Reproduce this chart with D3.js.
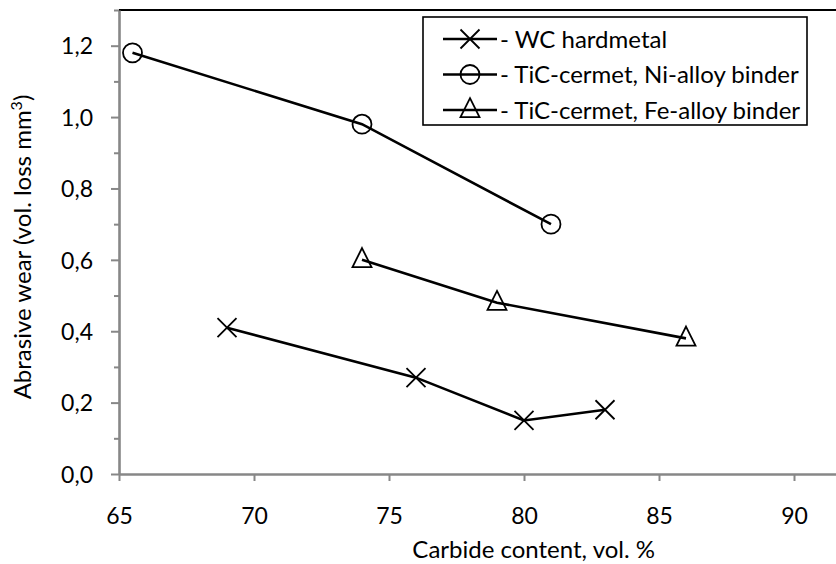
<!DOCTYPE html>
<html>
<head>
<meta charset="utf-8">
<script src="https://cdn.jsdelivr.net/npm/d3@7"></script>
<style>
  html, body { margin: 0; padding: 0; background: #fff; }
  svg { display: block; font-family: Lato, "Open Sans", sans-serif; }
</style>
</head>
<body>
<svg id="chart" width="836" height="564"></svg>
<script>
// Abrasive wear vs carbide content for three material groups
const wcContent   = [69, 76, 80, 83];
const wcWear      = [0.41, 0.27, 0.15, 0.18];
const niContent   = [65.5, 74, 81];
const niWear      = [1.18, 0.98, 0.70];
const feContent   = [74, 79, 86];
const feWear      = [0.60, 0.48, 0.38];

const seriesNames = ["- WC hardmetal", "- TiC-cermet, Ni-alloy binder", "- TiC-cermet, Fe-alloy binder"];
const seriesMarks = ["times", "circle", "triangle"];
const xTicks = [65, 70, 75, 80, 85, 90];
const yTicks = [0, 0.2, 0.4, 0.6, 0.8, 1.0, 1.2];
const yMinorTicks = [0.1, 0.3, 0.5, 0.7, 0.9, 1.1, 1.3];

const W = 836, H = 564;
const plotLeft = 119, plotTop = 10, plotBottom = 474;
const svg = d3.select("#chart");

const x = d3.scaleLinear().domain([65, 95]).range([plotLeft, plotLeft + 810]);
const y = d3.scaleLinear().domain([0, 1.3]).range([plotBottom, plotTop]);

const axisGray = "#878787";
const fmt = v => d3.format(".1f")(v).replace(".", ",");

// top frame line
svg.append("line")
  .attr("x1", plotLeft).attr("x2", W).attr("y1", plotTop).attr("y2", plotTop)
  .attr("stroke", "#000").attr("stroke-width", 1.8);

// Y axis (major + minor ticks)
const yAxis = svg.append("g").attr("transform", `translate(${plotLeft},0)`)
  .call(d3.axisLeft(y).tickValues(yTicks).tickFormat(fmt).tickSize(8).tickSizeOuter(0).tickPadding(18));
svg.append("g").attr("transform", `translate(${plotLeft},0)`)
  .call(d3.axisLeft(y).tickValues(yMinorTicks).tickFormat("").tickSize(5).tickSizeOuter(0))
  .call(g => g.select(".domain").remove())
  .selectAll("line").attr("stroke", axisGray).attr("stroke-width", 2);

// X axis (line runs on past the right edge)
const xAxis = svg.append("g").attr("transform", `translate(0,${plotBottom})`)
  .call(d3.axisBottom(x).tickValues(xTicks).tickFormat(d3.format("d")).tickSize(7).tickSizeOuter(0).tickPadding(27));

[yAxis, xAxis].forEach(g => {
  g.select(".domain").attr("stroke", axisGray).attr("stroke-width", 2.6);
  g.selectAll(".tick line").attr("stroke", axisGray).attr("stroke-width", 2);
  g.selectAll(".tick text").attr("fill", "#000").style("font-size", "23px").style("font-family", "Lato, sans-serif");
});
yAxis.selectAll(".tick text").attr("dy", "0.36em");

// axis titles
svg.append("text")
  .attr("x", 655).attr("y", 558)
  .attr("text-anchor", "end")
  .style("font-size", "24px")
  .text("Carbide content, vol. %");

const yt = svg.append("text")
  .attr("transform", `translate(31,${(plotTop + plotBottom) / 2 + 5}) rotate(-90)`)
  .attr("text-anchor", "middle")
  .style("font-size", "24px");
yt.append("tspan").text("Abrasive wear (vol. loss mm");
yt.append("tspan").attr("baseline-shift", "super").style("font-size", "16px").text("3");
yt.append("tspan").text(")");

// marker drawing
function drawMarker(g, kind, cx, cy) {
  const s = { fill: "none", stroke: "#000", "stroke-width": 1.8 };
  let el;
  if (kind === "circle") {
    el = g.append("circle").attr("cx", cx).attr("cy", cy).attr("r", 9.5);
  } else if (kind === "triangle") {
    const h = 19, w = 19;
    el = g.append("path").attr("d",
      `M${cx},${cy - h * 0.62}L${cx + w / 2},${cy + h * 0.38}L${cx - w / 2},${cy + h * 0.38}Z`);
  } else {
    const r = 9.5;
    el = g.append("path").attr("d",
      `M${cx - r},${cy - r}L${cx + r},${cy + r}M${cx - r},${cy + r}L${cx + r},${cy - r}`);
  }
  Object.entries(s).forEach(([k, v]) => el.attr(k, v));
}

const series = [
  { xs: wcContent, ys: wcWear, mark: seriesMarks[0] },
  { xs: niContent, ys: niWear, mark: seriesMarks[1] },
  { xs: feContent, ys: feWear, mark: seriesMarks[2] }
];

const line = d3.line().x(d => x(d[0])).y(d => y(d[1]));
const plot = svg.append("g");
series.forEach(s => {
  const pts = s.xs.map((v, i) => [v, s.ys[i]]);
  plot.append("path").attr("d", line(pts))
    .attr("fill", "none").attr("stroke", "#000").attr("stroke-width", 2.6);
  pts.forEach(p => drawMarker(plot, s.mark, x(p[0]), y(p[1])));
});

// legend
const lg = svg.append("g");
lg.append("rect").attr("x", 423).attr("y", 17).attr("width", 384).attr("height", 108)
  .attr("fill", "#fff").attr("stroke", "#000").attr("stroke-width", 1.6);
seriesNames.forEach((name, i) => {
  const cy = 39 + i * 35.5;
  lg.append("line").attr("x1", 443).attr("x2", 497).attr("y1", cy).attr("y2", cy)
    .attr("stroke", "#000").attr("stroke-width", 2.6);
  drawMarker(lg, seriesMarks[i], 470, cy);
  lg.append("text").attr("x", 500).attr("y", cy).attr("dy", "0.36em")
    .style("font-size", "24px").text(name);
});
</script>
</body>
</html>
